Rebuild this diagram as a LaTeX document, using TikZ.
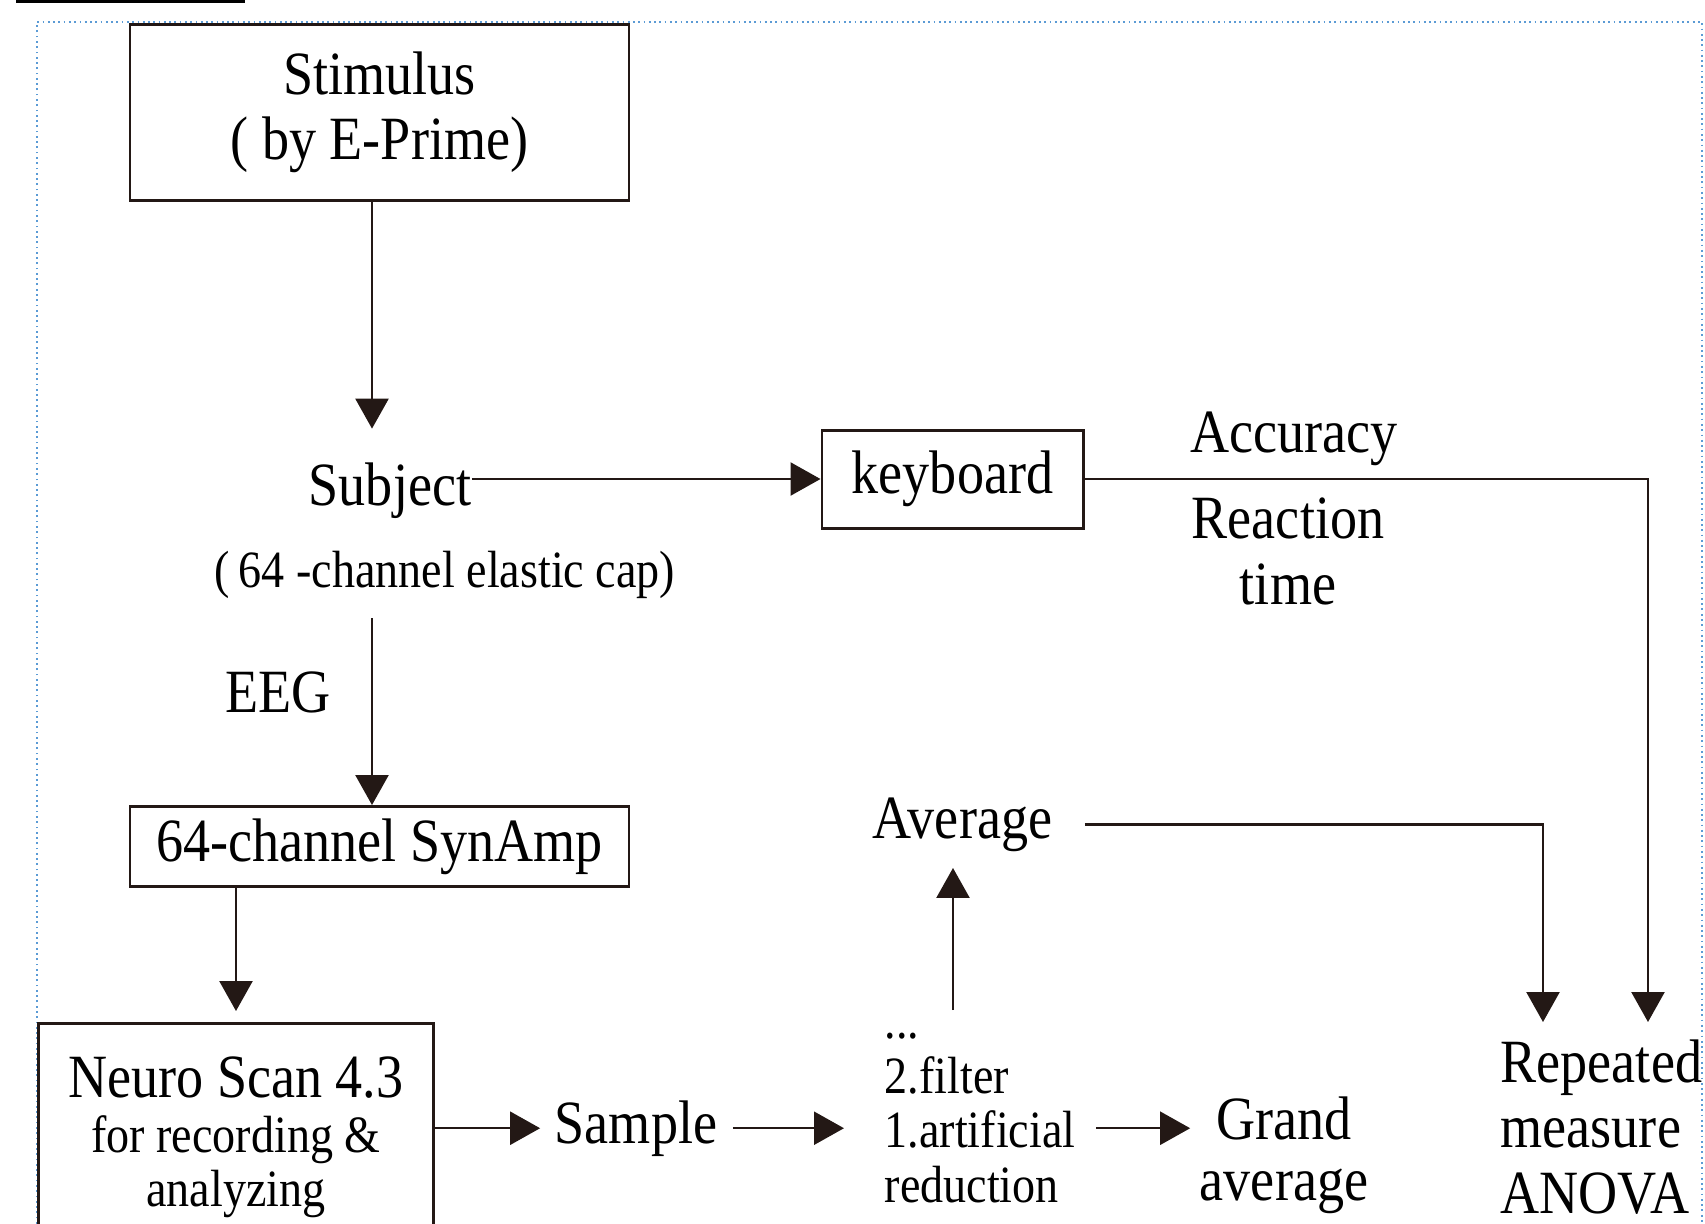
\documentclass[tikz,border=0pt]{standalone}
\usepackage{fontspec}
\setmainfont{Liberation Serif}[FakeStretch=0.88]
\usetikzlibrary{arrows.meta}
\definecolor{ink}{RGB}{35,24,21}
\definecolor{dotblue}{RGB}{91,155,213}
\newcommand{\sizeL}{\fontsize{17.5pt}{18.5pt}\selectfont}
\newcommand{\sizeM}{\fontsize{14.9pt}{15.5pt}\selectfont}

\begin{document}
\begin{tikzpicture}[
	box/.style={draw=ink, line width=0.85pt, inner sep=0pt, align=center, font=\sizeL},
	txt/.style={inner sep=0pt, font=\sizeL},
	arr/.style={draw=ink, line width=0.7pt, -{Triangle[length=0.3cm, width=0.33cm]}}]
	\useasboundingbox (0,0) rectangle (17.05,-12.23);
	\clip (0,0) rectangle (17.05,-12.23);
	
	\fill (0.16,0.05) rectangle (2.45,-0.03);
	\draw[dotblue, densely dotted, line width=0.5pt] (0.37,-12.5) |- (17.02,-0.22) -- (17.02,-12.5);
	
	\node[box, minimum width=4.99cm, minimum height=1.76cm] (stim) at (3.795,-1.12) {Stimulus\\( by E-Prime)};
	\node[txt, anchor=base] (subj) at (3.90,-5.05) {Subject};
	\node[txt, anchor=base, font=\sizeM] (cap) at (4.45,-5.87) {(\,64 -channel elastic cap)};
	\node[box, minimum width=2.61cm, minimum height=0.98cm] (kb) at (9.525,-4.79) {keyboard};
	\node[txt, anchor=base west] (acc) at (11.90,-4.52) {Accuracy};
	\node[txt, anchor=base, align=center] (rt) at (12.88,-6.04) {Reaction\\time};
	\node[txt, anchor=base] (eeg) at (2.78,-7.12) {EEG};
	\node[box, minimum width=4.99cm, minimum height=0.80cm] (amp) at (3.795,-8.465) {64-channel SynAmp};
	\node[box, font=\sizeM, anchor=north west, minimum width=3.95cm, minimum height=2.28cm] (ns) at (0.37,-10.22)
		{{\sizeL Neuro Scan 4.3}\\for recording \&\\analyzing};
	\node[txt, anchor=base] (smp) at (6.36,-11.43) {Sample};
	\node[txt, font=\sizeM, anchor=base west, align=left] (proc) at (8.84,-12.02)
		{...\\2.filter\\1.artificial\\reduction};
	\node[txt, anchor=base] (avg) at (9.625,-8.38) {Average};
	\node[txt, anchor=base, align=center] (grand) at (12.84,-12.00) {Grand\\[-1.4pt]average};
	\node[txt, anchor=base west, align=left] (anova) at (15.00,-12.13) {Repeated\\measure\\ANOVA};
	
	\coordinate (eegtop) at (3.72,-6.18);
	\coordinate (uptail) at (9.53,-10.10);
	\coordinate (anovaL) at (15.43,-10.22);
	\coordinate (anovaR) at (16.48,-10.22);
	
	\draw[arr, shorten >=0.33cm] (stim.south -| eegtop) -- (subj.north -| eegtop);
	\draw[arr] (subj.east |- kb.west) -- (kb.west);
	\draw[arr] (kb.east) -| (anovaR);
	\draw[arr] (eegtop) -- (amp.north -| eegtop);
	\draw[arr, shorten >=0.11cm] (amp.south -| ns.north) -- (ns.north);
	\draw[arr, shorten >=0.14cm] (ns.east |- smp) -- (smp.west);
	\draw[arr, shorten <=0.15cm, shorten >=0.40cm] (smp.east) -- (smp.east -| proc.west);
	\draw[arr, shorten <=0.2cm, shorten >=0.09cm] (proc.east |- smp.east) -- (grand.west |- smp.east);
	\draw[arr, shorten >=0.16cm] (uptail) -- (uptail |- avg.south);
	\draw[arr, shorten <=0.32cm] (avg.east) -| (anovaL);
\end{tikzpicture}
\end{document}
